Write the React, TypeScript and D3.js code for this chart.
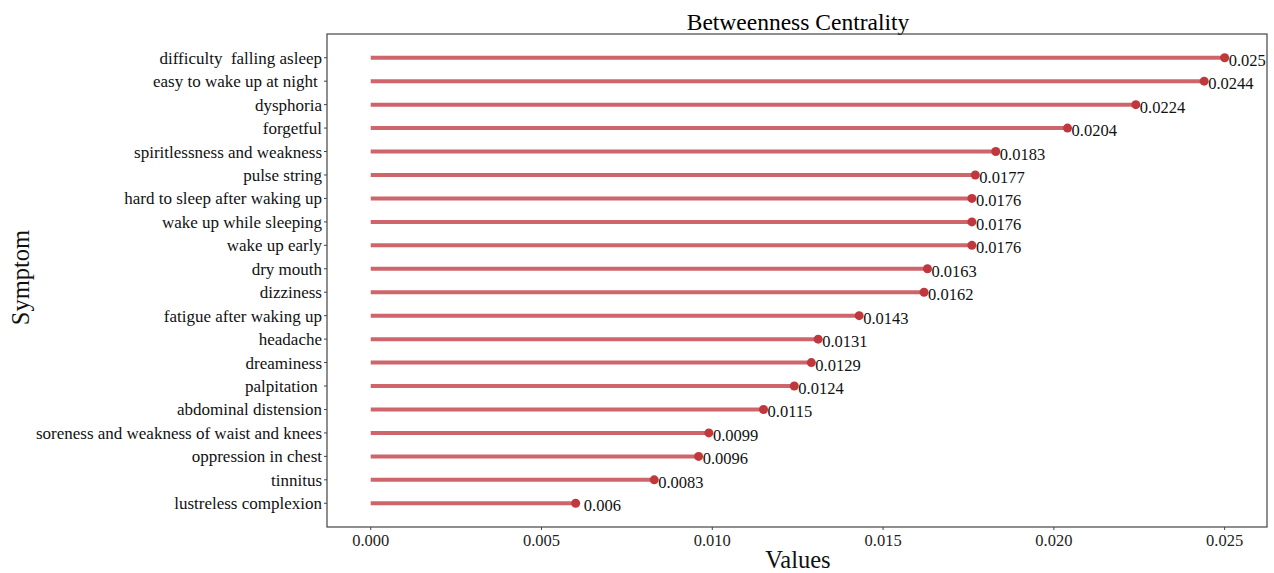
import React from 'react';
import { scaleLinear, scaleBand } from 'd3';

const symptoms = [
  'difficulty  falling asleep',
  'easy to wake up at night ',
  'dysphoria',
  'forgetful',
  'spiritlessness and weakness',
  'pulse string',
  'hard to sleep after waking up',
  'wake up while sleeping',
  'wake up early',
  'dry mouth',
  'dizziness',
  'fatigue after waking up',
  'headache',
  'dreaminess',
  'palpitation ',
  'abdominal distension',
  'soreness and weakness of waist and knees',
  'oppression in chest',
  'tinnitus',
  'lustreless complexion',
];
const values = [0.025, 0.0244, 0.0224, 0.0204, 0.0183, 0.0177, 0.0176, 0.0176, 0.0176, 0.0163,
  0.0162, 0.0143, 0.0131, 0.0129, 0.0124, 0.0115, 0.0099, 0.0096, 0.0083, 0.006];
const valueLabels = ['0.025', '0.0244', '0.0224', '0.0204', '0.0183', '0.0177', '0.0176', '0.0176', '0.0176', '0.0163',
  '0.0162', '0.0143', '0.0131', '0.0129', '0.0124', '0.0115', '0.0099', '0.0096', '0.0083', ' 0.006'];
const xTicks = [0, 0.005, 0.01, 0.015, 0.02, 0.025];

const W = 1274, H = 573;
const left = 327, right = 1267, top = 34, bottom = 527;
const font = '"Liberation Serif", "Times New Roman", serif';

export default function App() {
  const x = scaleLinear().domain([-0.00128, 0.02624]).range([left, right]);
  const y = scaleBand().domain(symptoms).range([46, 515]).padding(0);
  const cy = (s: string) => (y(s) as number) + y.bandwidth() / 2;

  return (
    <svg width={W} height={H} style={{ position: 'absolute', left: 0, top: 0, background: '#fff' }}>
      <text x={(left + right) / 2 + 1} y={30} textAnchor="middle" fontFamily={font} fontSize={23.5} fill="#000">
        Betweenness Centrality
      </text>
      <rect x={left} y={top} width={right - left} height={bottom - top} fill="none" stroke="#444" strokeWidth={1.2} />
      {xTicks.map(t => (
        <g key={t}>
          <line x1={x(t)} x2={x(t)} y1={bottom} y2={bottom + 3} stroke="#444" />
          <text x={x(t)} y={546} textAnchor="middle" fontFamily={font} fontSize={16.5} fill="#222">
            {t.toFixed(3)}
          </text>
        </g>
      ))}
      {symptoms.map((s, i) => (
        <g key={s}>
          <line x1={left - 3} x2={left} y1={cy(s)} y2={cy(s)} stroke="#444" />
          <text x={left - 5} y={cy(s) + 6} textAnchor="end" fontFamily={font} fontSize={17} fill="#111"
            style={{ whiteSpace: 'pre' }}>
            {s}
          </text>
          <line x1={x(0)} x2={x(values[i])} y1={cy(s)} y2={cy(s)} stroke="#c44a50" strokeOpacity={0.85} strokeWidth={4} />
          <circle cx={x(values[i])} cy={cy(s)} r={4.5} fill="#c0383e" />
          <text x={x(values[i]) + 4} y={cy(s) + 8} fontFamily={font} fontSize={16.5} fill="#111"
            style={{ whiteSpace: 'pre' }}>
            {valueLabels[i]}
          </text>
        </g>
      ))}
      <text x={(left + right) / 2 + 1} y={568} textAnchor="middle" fontFamily={font} fontSize={24.5} fill="#111">
        Values
      </text>
      <text transform={`translate(29, ${(top + bottom) / 2 - 3}) rotate(-90)`} textAnchor="middle" fontFamily={font} fontSize={24.5} fill="#111">
        Symptom
      </text>
    </svg>
  );
}
